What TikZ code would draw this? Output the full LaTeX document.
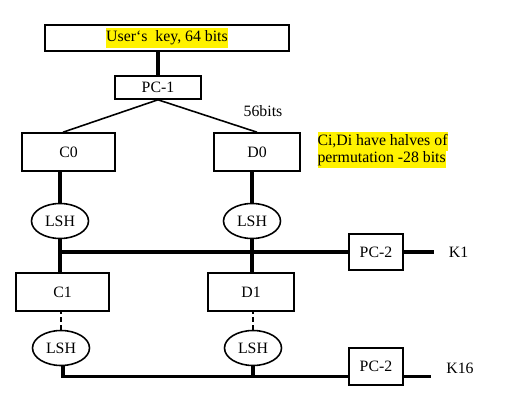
\documentclass[tikz,border=0pt]{standalone}
\usepackage{xcolor}
\usepackage{fontspec}
\setmainfont{Liberation Serif}
\usetikzlibrary{shapes,arrows,positioning,calc}

\begin{document}
\begin{tikzpicture}[
      box/.style={rectangle, draw=black, line width=0.9pt, minimum height=0.76cm, inner sep=0pt, font=\fontsize{9}{11}\selectfont},
      lsh/.style={ellipse, draw=black, line width=0.9pt, minimum width=1.14cm, minimum height=0.7cm, inner sep=0pt, font=\fontsize{9}{11}\selectfont},
      lbl/.style={font=\fontsize{9}{11}\selectfont},
      wire/.style={line width=2pt},
      thin wire/.style={line width=0.9pt},
    ]
    \useasboundingbox (0, 0) rectangle (10.2, -8.26);
    \setlength{\fboxsep}{0pt}
    % Key and PC-1 (top)
    \node [box, minimum width=4.88cm, minimum height=0.52cm] (key) at (3.34, -0.76) {\raisebox{-0.5ex}{\colorbox{yellow}{\strut User`s\ \ key, 64 bits}}};
    \node [box, minimum width=1.72cm, minimum height=0.46cm] (pc1) at (3.16, -1.75) {PC-1};
    \draw [wire] (pc1.north) -- (pc1.north |- key.south);
    \node [lbl] (bits) at (5.26, -2.22) {56bits};
    % C0 and D0
    \node [box, minimum width=1.86cm] (c0) at (1.37, -3.04) {C0};
    \node [box, minimum width=1.72cm] (d0) at (5.14, -3.04) {D0};
    \draw [thin wire] (pc1.south) -- ($(c0.north)+(-0.11,0)$);
    \draw [thin wire] (pc1.south) -- (d0.north);
    \node [lbl, align=left, inner sep=0pt] (note) at (7.65, -3.0) {\colorbox{yellow}{\strut Ci,Di have halves of}\\[-0.4ex]\colorbox{yellow}{\strut permutation -28 bits}};
    % First shift and PC-2
    \node [lsh] (lsh1) at (1.2, -4.42) {LSH};
    \node [lsh] (lsh2) at (5.04, -4.42) {LSH};
    \draw [wire] (lsh1.north) -- (lsh1.north |- c0.south);
    \draw [wire] (lsh2.north) -- (lsh2.north |- d0.south);
    \node [box, minimum width=1.08cm, minimum height=0.72cm] (pc2a) at (7.52, -5.04) {PC-2};
    \node [lbl] (k1) at (9.17, -5.04) {K1};
    % C1 and D1
    \node [box, minimum width=1.86cm] (c1) at (1.25, -5.84) {C1};
    \node [box, minimum width=1.72cm] (d1) at (5.02, -5.84) {D1};
    \draw [wire] (lsh1.south) -- (lsh1.south |- c1.north);
    \draw [wire] (lsh2.south) -- (lsh2.south |- d1.north);
    \draw [wire] (lsh1.south |- pc2a.west) -- (pc2a.west);
    \draw [wire, shorten >=0.18cm] (pc2a.east) -- (k1.west);
    % Last shift and PC-2
    \node [lsh] (lsh3) at (1.22, -6.96) {LSH};
    \node [lsh] (lsh4) at (5.06, -6.96) {LSH};
    \draw [thin wire, dash pattern=on 2.5pt off 2pt] (lsh3.north) -- (lsh3.north |- c1.south);
    \draw [thin wire, dash pattern=on 2.5pt off 2pt] (lsh4.north) -- (lsh4.north |- d1.south);
    \node [box, minimum width=1.08cm, minimum height=0.74cm] (pc2b) at (7.52, -7.33) {PC-2};
    \node [lbl] (k16) at (9.2, -7.36) {K16};
    \coordinate (turn) at ($(lsh3.south)+(0.04,-0.2)$);
    \draw [wire] ($(lsh3.south)+(0.04,0)$) -- (turn) -- (turn -| pc2b.west);
    \draw [wire] (lsh4.south) -- (lsh4.south |- turn);
    \draw [wire, shorten >=0.18cm] (pc2b.east |- turn) -- (k16.west |- turn);
  \end{tikzpicture}
\end{document}
